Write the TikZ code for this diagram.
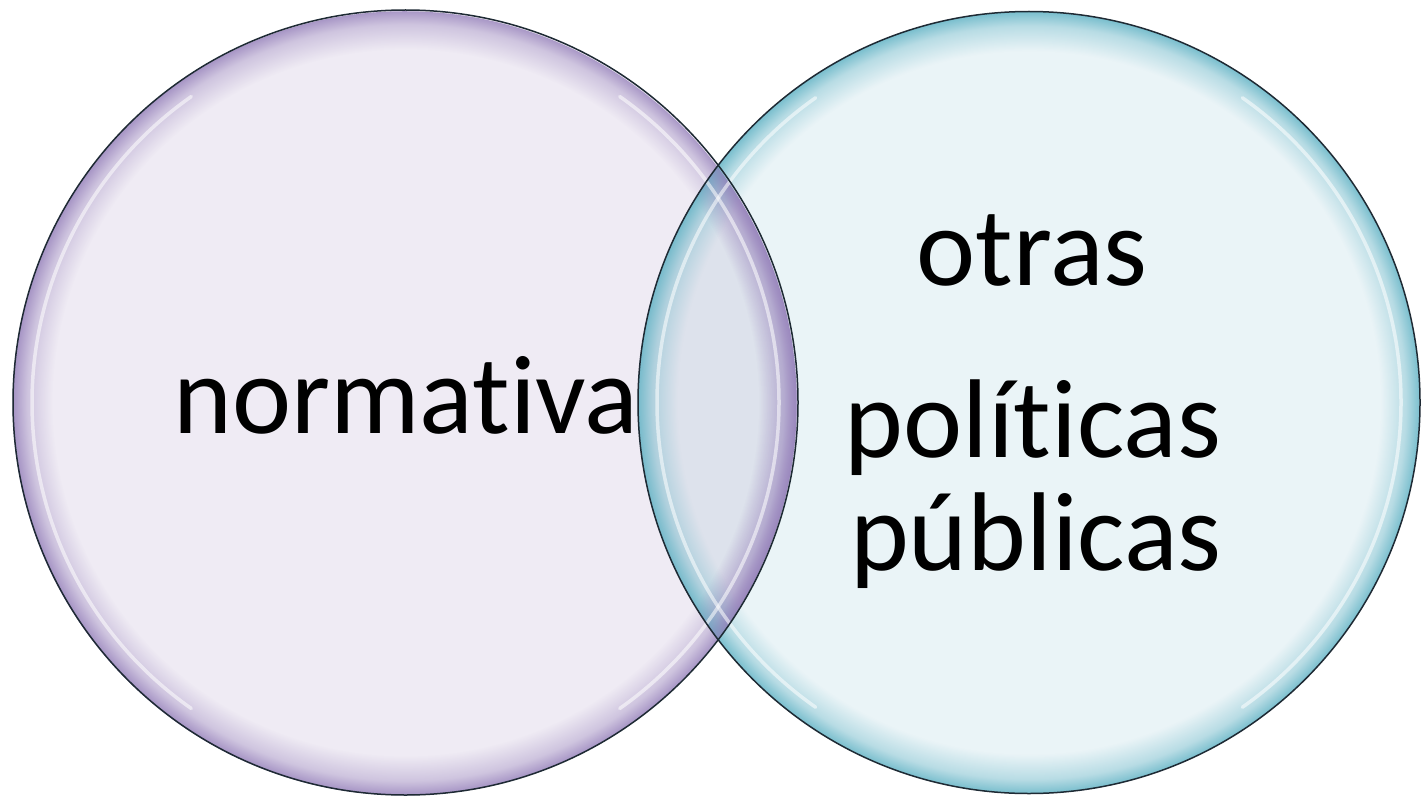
\documentclass[tikz,border=0pt]{standalone}
\usepackage{fontspec}
\setmainfont{Carlito}[Ligatures=NoCommon]
\usetikzlibrary{fadings}
\definecolor{lfill}{HTML}{EFEBF4}
\definecolor{rfill}{HTML}{EAF4F7}
\definecolor{lensfill}{HTML}{DDE2EC}
\definecolor{ledge}{HTML}{9580BA}
\definecolor{redge}{HTML}{5FB2C4}
\definecolor{outline}{HTML}{1E2A34}
\pgfdeclareradialshading{ringshade}{\pgfpointorigin}{color(0bp)=(pgftransparent!100); color(22.4bp)=(pgftransparent!100); color(24bp)=(pgftransparent!60); color(25bp)=(pgftransparent!5); color(50bp)=(pgftransparent!5)}
\pgfdeclarefading{ringfade}{\pgfuseshading{ringshade}}
\tikzset{
  label/.style={font=\fontsize{112}{120}\selectfont, text=black, anchor=base, inner sep=0pt},
  ring/.style={path fading=ringfade, fit fading=true},
  highlight/.style={draw=white, line width=3.5pt, draw opacity=0.55, line cap=round},
  rim/.style={draw=outline, line width=1.5pt}
}
\begin{document}
\begin{tikzpicture}[x=1pt,y=-1pt]
\useasboundingbox (0,0) rectangle (1423,797);
\coordinate (L) at (405.5,402.5);
\coordinate (R) at (1029,402.5);
\def\rl{392.5}
\def\rr{391}
% base fills
\fill[lfill] (L) circle (\rl);
\fill[rfill] (R) circle (\rr);
\begin{scope}
  \clip (L) circle (\rl);
  \fill[lensfill] (R) circle (\rr);
\end{scope}
% rings
\fill[ledge, ring, fill opacity=0.9] (L) circle (\rl);
\fill[redge, ring, fill opacity=0.9] (R) circle (\rr);
\begin{scope}
  \clip (R) circle (\rr);
  \fill[ledge, ring, fill opacity=0.75] (L) circle (\rl);
\end{scope}
% highlights (sides only)
\draw[highlight] ([shift={(125:\rl-19)}]L) arc[start angle=125, end angle=235, radius=\rl-19];
\draw[highlight] ([shift={(-55:\rl-19)}]L) arc[start angle=-55, end angle=55, radius=\rl-19];
\draw[highlight] ([shift={(125:\rr-19)}]R) arc[start angle=125, end angle=235, radius=\rr-19];
\draw[highlight] ([shift={(-55:\rr-19)}]R) arc[start angle=-55, end angle=55, radius=\rr-19];
% outlines
\draw[rim] (L) circle (\rl);
\draw[rim] (R) circle (\rr);
% labels
\node[label] (norm) at (406,433) {normativa};
\node[label] (otras) at (1032,285) {otras};
\node[label] (pol) at (1033,457) {políticas};
\node[label] (pub) at (1036,570) {públicas};
\end{tikzpicture}
\end{document}
